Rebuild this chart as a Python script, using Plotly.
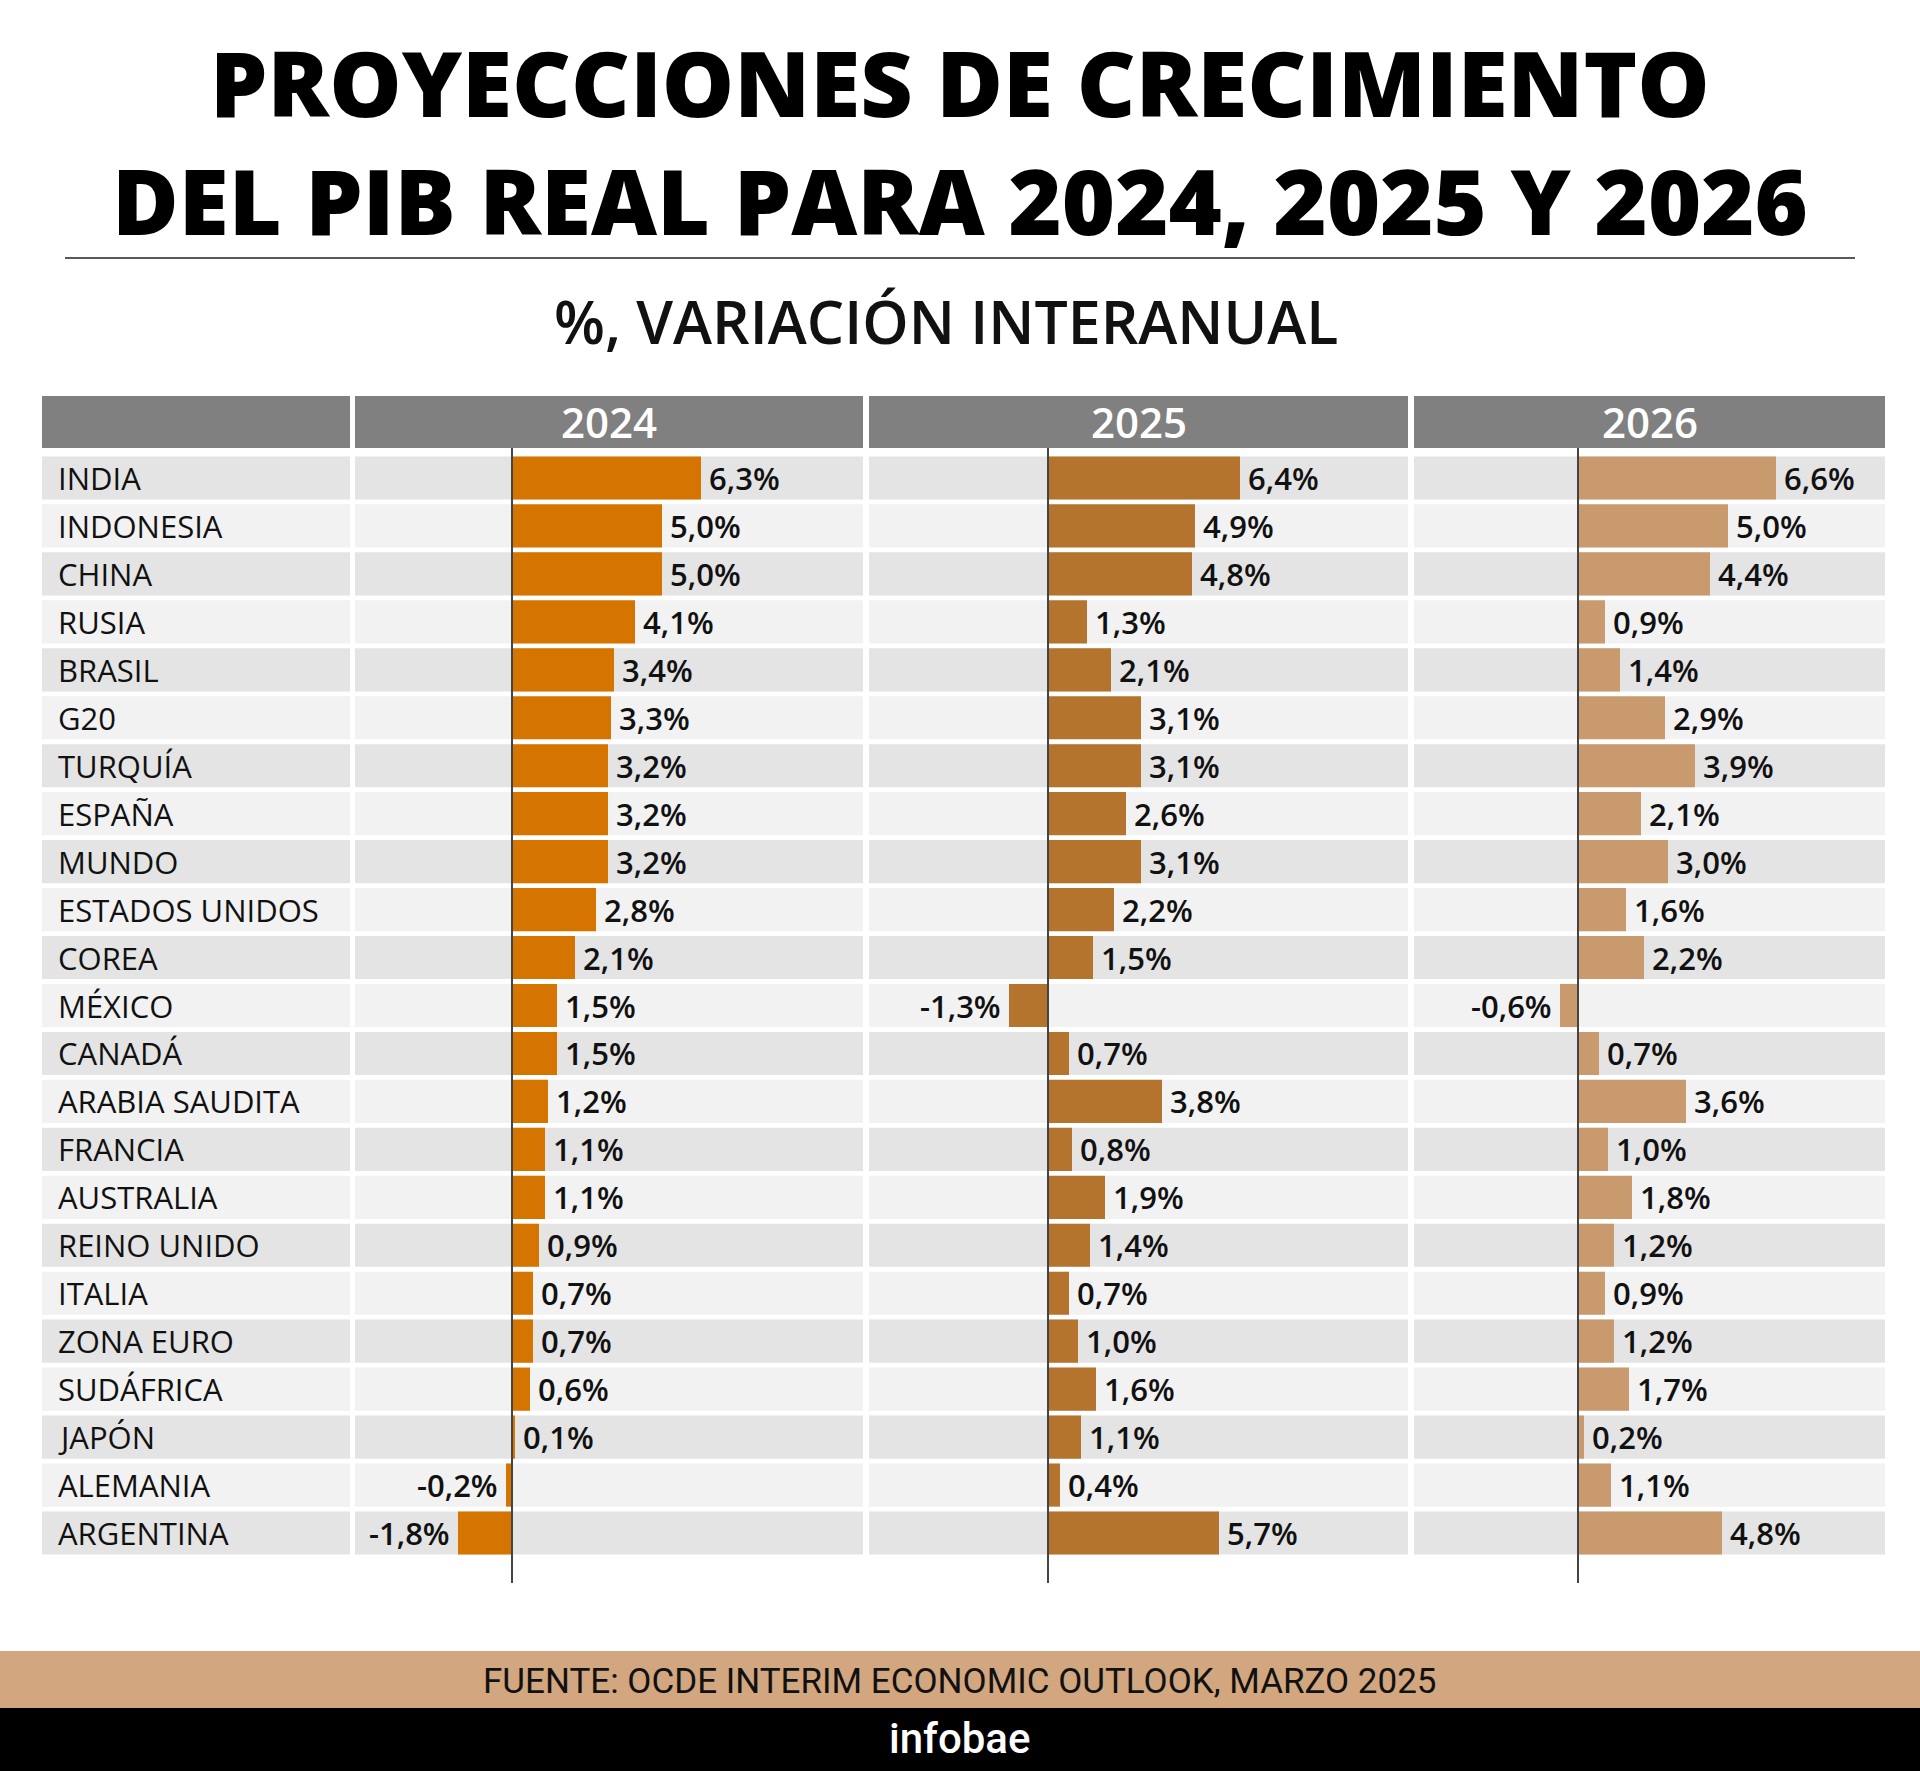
import plotly.graph_objects as go

W, H = 1920, 1771

countries = ["INDIA", "INDONESIA", "CHINA", "RUSIA", "BRASIL", "G20", "TURQUÍA", "ESPAÑA",
             "MUNDO", "ESTADOS UNIDOS", "COREA", "MÉXICO", "CANADÁ", "ARABIA SAUDITA",
             "FRANCIA", "AUSTRALIA", "REINO UNIDO", "ITALIA", "ZONA EURO", "SUDÁFRICA",
             "JAPÓN", "ALEMANIA", "ARGENTINA"]
years = ["2024", "2025", "2026"]
g2024 = [6.3, 5.0, 5.0, 4.1, 3.4, 3.3, 3.2, 3.2, 3.2, 2.8, 2.1, 1.5, 1.5, 1.2, 1.1, 1.1, 0.9, 0.7, 0.7, 0.6, 0.1, -0.2, -1.8]
g2025 = [6.4, 4.9, 4.8, 1.3, 2.1, 3.1, 3.1, 2.6, 3.1, 2.2, 1.5, -1.3, 0.7, 3.8, 0.8, 1.9, 1.4, 0.7, 1.0, 1.6, 1.1, 0.4, 5.7]
g2026 = [6.6, 5.0, 4.4, 0.9, 1.4, 2.9, 3.9, 2.1, 3.0, 1.6, 2.2, -0.6, 0.7, 3.6, 1.0, 1.8, 1.2, 0.9, 1.2, 1.7, 0.2, 1.1, 4.8]
series = [g2024, g2025, g2026]
colors = ["#d67400", "#b5742e", "#c89a6e"]

title_lines = ["PROYECCIONES DE CRECIMIENTO", "DEL PIB REAL PARA 2024, 2025 Y 2026"]
subtitle = "%, VARIACIÓN INTERANUAL"
source = "FUENTE: OCDE INTERIM ECONOMIC OUTLOOK, MARZO 2025"
brand = "infobae"


def px(x):
    return x / W


def py(y):
    return 1 - y / H


# column geometry (pixels)
label_col = (42, 350)
cols = [(355, 863, 512), (869, 1408, 1048), (1414, 1885, 1578)]
SCALE = 30.0  # pixels per percentage point
row_top, row_bot = 454, 1557
n = len(countries)

fig = go.Figure()
layout_axes = {}
for k, (c0, c1, z) in enumerate(cols):
    xmin = -(z - c0) / SCALE
    xmax = (c1 - z) / SCALE
    name = "xaxis" if k == 0 else f"xaxis{k+1}"
    layout_axes[name] = dict(domain=[px(c0), px(c1)], range=[xmin, xmax], visible=False,
                             fixedrange=True, anchor="y")
    fig.add_trace(go.Bar(
        x=series[k], y=list(range(n)), orientation="h", width=0.9,
        marker=dict(color=colors[k], line=dict(width=0)),
        xaxis="x" if k == 0 else f"x{k+1}", yaxis="y", showlegend=False,
        hoverinfo="skip"))

shapes = []
annotations = []

# title (two lines in one block)
annotations.append(dict(text="<br>".join(title_lines), x=0.5, y=py(141), xref="paper", yref="paper",
                        showarrow=False, xanchor="center", yanchor="middle", align="center",
                        font=dict(family="Open Sans", size=91, color="#000", weight=800)))
shapes.append(dict(type="line", xref="paper", yref="paper", x0=px(65), x1=px(1855),
                   y0=py(258), y1=py(258), line=dict(color="#222", width=1.5)))
annotations.append(dict(text=subtitle, x=px(946), y=py(321), xref="paper", yref="paper",
                        showarrow=False, xanchor="center", yanchor="middle",
                        font=dict(family="Open Sans", size=59, color="#111", weight=600)))

# header row
hdr_top, hdr_bot = 396, 448
for (c0, c1) in [label_col] + [(c[0], c[1]) for c in cols]:
    shapes.append(dict(type="rect", xref="paper", yref="paper", x0=px(c0), x1=px(c1),
                       y0=py(hdr_bot), y1=py(hdr_top), fillcolor="#808080", line=dict(width=0),
                       layer="below"))
for k, (c0, c1, z) in enumerate(cols):
    annotations.append(dict(text=years[k], x=px((c0 + c1) / 2), y=py(421), xref="paper", yref="paper",
                            showarrow=False, xanchor="center", yanchor="middle",
                            font=dict(family="Open Sans", size=42, color="#fff", weight=600)))

# row backgrounds and labels
for i, c in enumerate(countries):
    fill = "#e4e4e4" if i % 2 == 0 else "#f2f2f2"
    for (c0, c1) in [label_col] + [(c_[0], c_[1]) for c_ in cols]:
        shapes.append(dict(type="rect", xref="paper", yref="y", x0=px(c0), x1=px(c1),
                           y0=i - 0.45, y1=i + 0.45, fillcolor=fill, line=dict(width=0),
                           layer="below"))
    annotations.append(dict(text=c, x=px(56), y=i, xref="paper", yref="y", showarrow=False,
                            xanchor="left", yanchor="middle",
                            font=dict(family="Open Sans", size=31, color="#111")))

# value labels
for k in range(3):
    xr = "x" if k == 0 else f"x{k+1}"
    for i, v in enumerate(series[k]):
        txt = f"{v:.1f}".replace(".", ",") + "%"
        annotations.append(dict(text=txt, x=v, y=i, xref=xr, yref="y", showarrow=False,
                                xanchor="left" if v >= 0 else "right", yanchor="middle",
                                xshift=6 if v >= 0 else -6,
                                font=dict(family="Open Sans", size=31, color="#111", weight=600)))

# zero lines
for k in range(3):
    xr = "x" if k == 0 else f"x{k+1}"
    shapes.append(dict(type="line", xref=xr, yref="paper", x0=0, x1=0, y0=py(1583), y1=py(448),
                       line=dict(color="#444", width=2), layer="above"))

# footer
shapes.append(dict(type="rect", xref="paper", yref="paper", x0=0, x1=1, y0=py(1708), y1=py(1651),
                   fillcolor="#d2a67f", line=dict(width=0)))
shapes.append(dict(type="rect", xref="paper", yref="paper", x0=0, x1=1, y0=0, y1=py(1708),
                   fillcolor="#000000", line=dict(width=0)))
annotations.append(dict(text=source, x=px(960), y=py(1681), xref="paper", yref="paper",
                        showarrow=False, xanchor="center", yanchor="middle",
                        font=dict(family="Roboto", size=35, color="#111")))
annotations.append(dict(text=brand, x=px(959), y=py(1738), xref="paper", yref="paper",
                        showarrow=False, xanchor="center", yanchor="middle",
                        font=dict(family="Roboto", size=42, color="#fff", weight=500)))

fig.update_layout(
    width=W, height=H, margin=dict(l=0, r=0, t=0, b=0),
    paper_bgcolor="#ffffff", plot_bgcolor="rgba(0,0,0,0)",
    barmode="overlay", showlegend=False,
    yaxis=dict(domain=[py(row_bot), py(row_top)], range=[n - 0.5, -0.5], visible=False,
               fixedrange=True),
    shapes=shapes, annotations=annotations,
    **layout_axes)

fig.write_html("out.html", config={"displayModeBar": False},
               post_script="document.body.style.margin='0';document.body.style.padding='0';"
                           "document.body.style.overflow='hidden';")
